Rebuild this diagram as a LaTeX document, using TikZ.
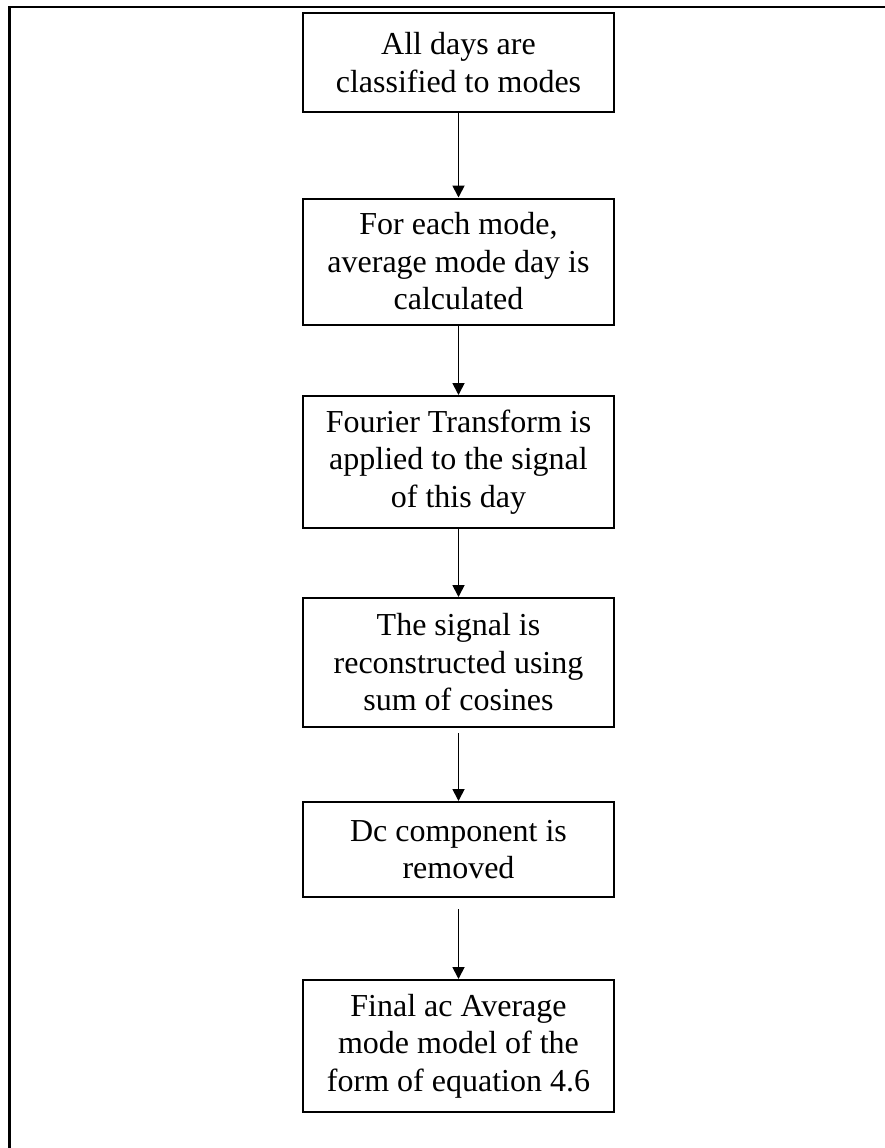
\documentclass[tikz,border=0pt]{standalone}
\usepackage{fontspec}
\setmainfont{Liberation Serif}
\usetikzlibrary{arrows.meta}
\begin{document}
\begin{tikzpicture}[x=1pt,y=-1pt,
  stepbox/.style={draw, line width=2pt, minimum width=311pt, align=center,
    inner sep=0pt, font=\fontsize{32}{37.5}\selectfont},
  flow/.style={line width=1.8pt, -{Triangle[length=12pt,width=12pt]}}]
\useasboundingbox (0,0) rectangle (885,1148);
\fill[white] (0,0) rectangle (885,1148);
% frame: top and left rules
\draw[line width=2.8pt] (9.5,1148) -- (9.5,7) -- (885,7);
% process steps
\node[stepbox, minimum height=99pt]  (b1) at (458.5,62.5)  {All days are\\classified to modes};
\node[stepbox, minimum height=126pt] (b2) at (458.5,261.5) {For each mode,\\average mode day is\\calculated};
\node[stepbox, minimum height=132pt] (b3) at (458.5,462)   {Fourier Transform is\\applied to the signal\\of this day};
\node[stepbox, minimum height=129pt] (b4) at (458.5,662.5) {The signal is\\reconstructed using\\sum of cosines};
\node[stepbox, minimum height=95pt]  (b5) at (458.5,849.5) {Dc component is\\removed};
\node[stepbox, minimum height=132pt] (b6) at (458.5,1046)  {Final ac Average\\mode model of the\\form of equation 4.6};
% connectors
\draw[flow] (b1.south) -- (b2.north);
\draw[flow] (b2.south) -- (b3.north);
\draw[flow] (b3.south) -- (b4.north);
\draw[flow] ([yshift=-5pt]b4.south) -- (b5.north);
\draw[flow] ([yshift=-11pt]b5.south) -- (b6.north);
\end{tikzpicture}
\end{document}
